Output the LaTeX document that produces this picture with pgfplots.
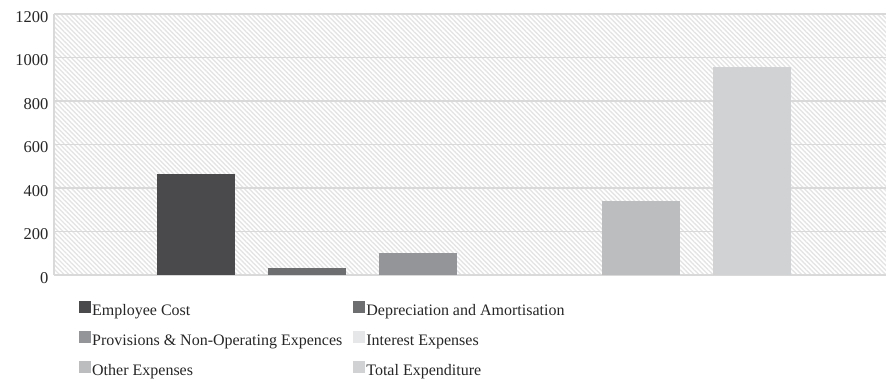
\documentclass[border=0pt]{standalone}
\usepackage{pgfplots}
\pgfplotsset{compat=1.18}
\usepackage{fontspec}
\setmainfont{Liberation Serif}
\usetikzlibrary{patterns.meta}
\definecolor{cA}{HTML}{4A4A4C}
\definecolor{cB}{HTML}{6D6E70}
\definecolor{cC}{HTML}{939598}
\definecolor{cD}{HTML}{E6E7E8}
\definecolor{cE}{HTML}{BCBDBF}
\definecolor{cF}{HTML}{D1D2D4}
\definecolor{gridc}{HTML}{D9D9D9}
\definecolor{hatchc}{HTML}{E4E4E4}
\begin{document}
\begin{tikzpicture}[x=1bp,y=1bp]
\path[use as bounding box] (0,0) rectangle (886,383);
\begin{axis}[
  at={(54bp,108bp)}, anchor=south west,
  scale only axis, width=832bp, height=261bp,
  xmin=-1.277, xmax=6.205, ymin=0, ymax=1200,
  ytick={0,200,...,1200}, xtick=\empty,
  axis lines=left, axis line style={draw=gridc, line width=1.2bp, -},
  major tick length=0pt,
  ymajorgrids, grid style={draw=gridc, line width=1.2bp},
  axis background/.style={pattern={Lines[angle=-45,distance=3.3bp,line width=1.4bp]}, pattern color=hatchc},
  yticklabel style={font=\fontsize{16.5bp}{18bp}\selectfont, color=black!85, xshift=-2bp, yshift=-3bp},
  /pgf/number format/assume math mode=true,
  /pgf/number format/1000 sep={},
  ybar, bar width=0.70, bar shift=0pt,
  legend columns=2,
  legend style={at={(22bp,-24bp)}, anchor=north west, draw=none, fill=none,
    font=\fontsize{16bp}{18bp}\selectfont, text=black!85,
    nodes={inner sep=0pt, text height=12bp, text depth=4bp},
    /tikz/every odd column/.append style={column sep=1.5bp},
    /tikz/every even column/.append style={column sep=11bp},
    row sep=11.5bp},
  legend cell align=left,
  legend image code/.code={\fill[#1] (0bp,-1bp) rectangle (11.5bp,10.5bp);},
]
\addplot[fill=cA, draw=none] coordinates {(0,464)};
\addlegendentry{Employee Cost}
\addplot[fill=cB, draw=none] coordinates {(1,32)};
\addlegendentry{Depreciation and Amortisation}
\addplot[fill=cC, draw=none] coordinates {(2,101)};
\addlegendentry{Provisions \& Non-Operating Expences}
\addplot[fill=cD, draw=none] coordinates {(3,0)};
\addlegendentry{Interest Expenses}
\addplot[fill=cE, draw=none] coordinates {(4,340)};
\addlegendentry{Other Expenses}
\addplot[fill=cF, draw=none] coordinates {(5,956)};
\addlegendentry{Total Expenditure}
\end{axis}
\end{tikzpicture}
\end{document}
